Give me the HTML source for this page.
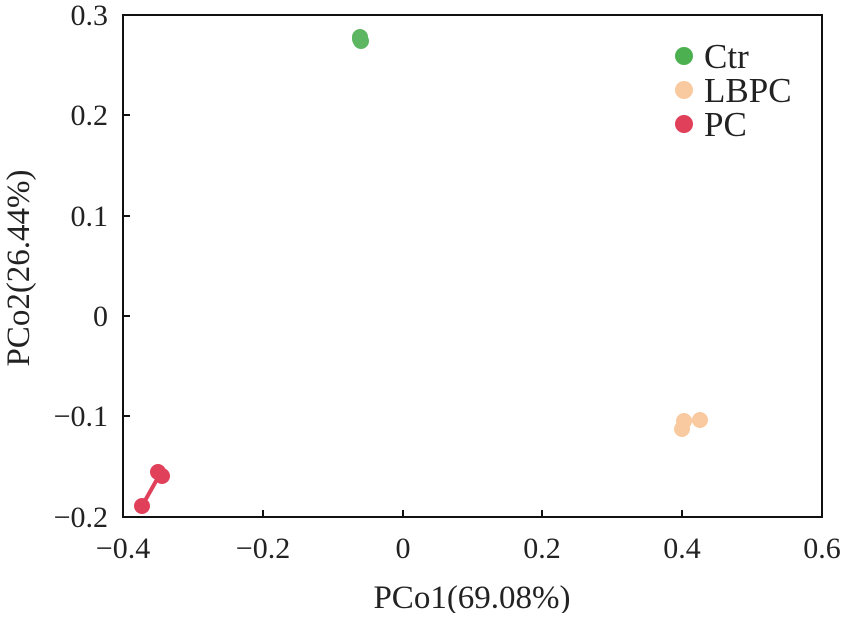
<!DOCTYPE html>
<html><head><style>body{margin:0;background:#fff}</style></head><body>
<svg width="843" height="613" xmlns="http://www.w3.org/2000/svg" font-family="Liberation Serif, serif" font-size="30" fill="#222">
<rect x="123" y="15" width="699" height="502" fill="none" stroke="#111" stroke-width="2"/>
<g stroke="#111" stroke-width="2">
<line x1="263" y1="517" x2="263" y2="510"/><line x1="403" y1="517" x2="403" y2="510"/><line x1="542" y1="517" x2="542" y2="510"/><line x1="682" y1="517" x2="682" y2="510"/>
<line x1="123" y1="115" x2="130" y2="115"/><line x1="123" y1="216" x2="130" y2="216"/><line x1="123" y1="316" x2="130" y2="316"/><line x1="123" y1="416" x2="130" y2="416"/>
</g>
<g text-anchor="middle">
<text x="123" y="558">−0.4</text><text x="263" y="558">−0.2</text><text x="403" y="558">0</text><text x="542" y="558">0.2</text><text x="682" y="558">0.4</text><text x="822" y="558">0.6</text>
<text x="472" y="608" font-size="33">PCo1(69.08%)</text>
</g>
<g text-anchor="end">
<text x="108" y="25">0.3</text><text x="108" y="125">0.2</text><text x="108" y="226">0.1</text><text x="108" y="326">0</text><text x="108" y="426">−0.1</text><text x="108" y="527">−0.2</text>
</g>
<text transform="translate(29,268) rotate(-90)" text-anchor="middle" font-size="33">PCo2(26.44%)</text>
<g fill="#4caf50" opacity="0.9"><circle cx="360" cy="37" r="8"/><circle cx="361" cy="41" r="8"/><circle cx="360" cy="39" r="8"/></g>
<g fill="#f9c9a0"><circle cx="684" cy="421" r="8"/><circle cx="700" cy="420" r="8"/><circle cx="682" cy="429" r="8"/><line x1="684" y1="421" x2="700" y2="420" stroke="#f9c9a0" stroke-width="4"/></g>
<g fill="#e0405a"><line x1="160" y1="474" x2="142" y2="506" stroke="#e0405a" stroke-width="4"/><circle cx="158" cy="472" r="8"/><circle cx="162" cy="476" r="8"/><circle cx="142" cy="506" r="8"/></g>
<g font-size="35">
<circle cx="684" cy="56" r="9" fill="#4caf50"/><text x="704" y="68">Ctr</text>
<circle cx="684" cy="90" r="9" fill="#f9c9a0"/><text x="704" y="102">LBPC</text>
<circle cx="684" cy="124" r="9" fill="#e0405a"/><text x="704" y="136">PC</text>
</g>
</svg>
</body></html>
